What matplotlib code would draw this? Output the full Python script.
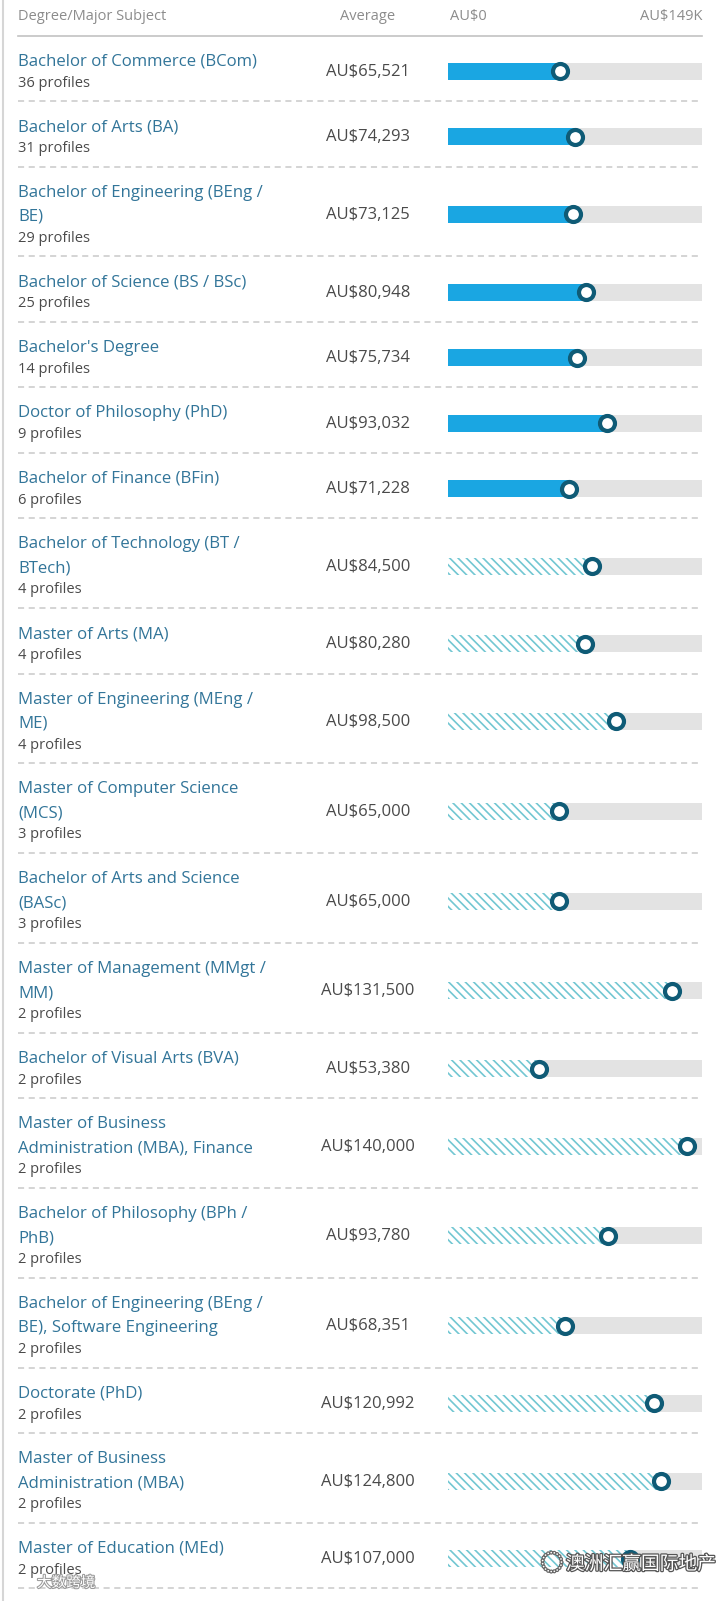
import matplotlib
matplotlib.use("Agg")
import matplotlib.pyplot as plt
import matplotlib.patheffects as pe

plt.rcParams['font.family'] = ['Open Sans', 'Noto Sans CJK SC', 'DejaVu Sans']
plt.rcParams['hatch.linewidth'] = 1.2
plt.rcParams['hatch.color'] = '#72c7d2'

degrees = [
    "Bachelor of Commerce (BCom)",
    "Bachelor of Arts (BA)",
    "Bachelor of Engineering (BEng /\nBE)",
    "Bachelor of Science (BS / BSc)",
    "Bachelor's Degree",
    "Doctor of Philosophy (PhD)",
    "Bachelor of Finance (BFin)",
    "Bachelor of Technology (BT /\nBTech)",
    "Master of Arts (MA)",
    "Master of Engineering (MEng /\nME)",
    "Master of Computer Science\n(MCS)",
    "Bachelor of Arts and Science\n(BASc)",
    "Master of Management (MMgt /\nMM)",
    "Bachelor of Visual Arts (BVA)",
    "Master of Business\nAdministration (MBA), Finance",
    "Bachelor of Philosophy (BPh /\nPhB)",
    "Bachelor of Engineering (BEng /\nBE), Software Engineering",
    "Doctorate (PhD)",
    "Master of Business\nAdministration (MBA)",
    "Master of Education (MEd)",
]
profiles = [36, 31, 29, 25, 14, 9, 6, 4, 4, 4, 3, 3, 2, 2, 2, 2, 2, 2, 2, 2]
salaries = [65521, 74293, 73125, 80948, 75734, 93032, 71228, 84500, 80280,
            98500, 65000, 65000, 131500, 53380, 140000, 93780, 68351,
            120992, 124800, 107000]
axis_max = 149000
axis_labels = ["AU$0", "AU$149K"]

W, H = 720, 1601
fig = plt.figure(figsize=(W / 100, H / 100), dpi=100)
fig.patch.set_facecolor('white')

ax = fig.add_axes([0, 0, 1, 1])
ax.set_xlim(0, W)
ax.set_ylim(H, 0)
ax.axis('off')

bar_left, bar_right = 448, 702
bx = fig.add_axes([bar_left / W, 0, (bar_right - bar_left) / W, 1])
bx.set_xlim(0, axis_max)
bx.set_ylim(H, 0)
bx.axis('off')

title_col = '#327599'
text_col = '#4a4a4a'
head_col = '#8c8c8c'
line_col = '#c9c9c9'

# left border
ax.plot([2.5, 2.5], [0, H], color='#d6d6d6', lw=1.5)

# header
ax.text(18, 16, "Degree/Major Subject", color=head_col, fontsize=10.5, va='center')
ax.text(368, 16, "Average", color=head_col, fontsize=10.5, va='center', ha='center')
ax.text(bar_left + 2, 16, axis_labels[0], color=head_col, fontsize=10.5, va='center')
ax.text(bar_right, 16, axis_labels[1], color=head_col, fontsize=10.5, va='center', ha='right')
ax.plot([18, bar_right], [35.5, 35.5], color='#c2c2c2', lw=1.2)

top = 35.5
centers = []
for name, n, sal in zip(degrees, profiles, salaries):
    lines = name.split("\n")
    h = 65.5 + 24.3 * (len(lines) - 1)
    base = top + 30
    for i, ln in enumerate(lines):
        ax.text(18, base + 24 * i, ln, color=title_col, fontsize=12.1, va='baseline')
    ax.text(18, base + 24 * (len(lines) - 1) + 21, f"{n} profiles",
            color=text_col, fontsize=10.5, va='baseline')
    c = top + h / 2 + 3
    centers.append(c)
    ax.text(368, c + 4.5, f"AU${sal:,}", color=text_col, fontsize=12,
            ha='center', va='baseline')
    top += h
    ax.plot([18, bar_right], [top, top], color=line_col, lw=1.1,
            dashes=(4, 3))

# bars
bx.barh(centers, [axis_max] * len(centers), height=17, color='#e3e3e3', lw=0)
solid = [i for i, n in enumerate(profiles) if n > 4]
hatched = [i for i, n in enumerate(profiles) if n <= 4]
bx.barh([centers[i] for i in solid], [salaries[i] for i in solid], height=17,
        color='#1aa6e2', lw=0)
bx.barh([centers[i] for i in hatched], [salaries[i] for i in hatched], height=17,
        facecolor='white', edgecolor='#72c7d2', hatch='\\\\\\\\', lw=0)
bx.plot(salaries, centers, 'o', ms=10.8, mfc='white', mec='#0f5b76', mew=3,
        clip_on=False, zorder=5)

# watermarks, drawn on top of everything
cjk = ['Noto Sans CJK SC', 'DejaVu Sans']
fig.text(716 / W, 1 - 1564 / H, "澳洲汇赢国际地产", color='white', fontsize=13.5,
         ha='right', va='center', family=cjk,
         path_effects=[pe.withStroke(linewidth=1.8, foreground='#555555')])
fig.text(552 / W, 1 - 1564 / H, "◌", color='white', fontsize=16,
         ha='center', va='center', family=cjk,
         path_effects=[pe.withStroke(linewidth=1.8, foreground='#666666')])
fig.text(37 / W, 1 - 1583 / H, "大数跨境", color='white', fontsize=10.5,
         ha='left', va='center', family=cjk,
         path_effects=[pe.withStroke(linewidth=1.5, foreground='#9a9a9a')])

fig.savefig("out.png", dpi=100, facecolor='white')
